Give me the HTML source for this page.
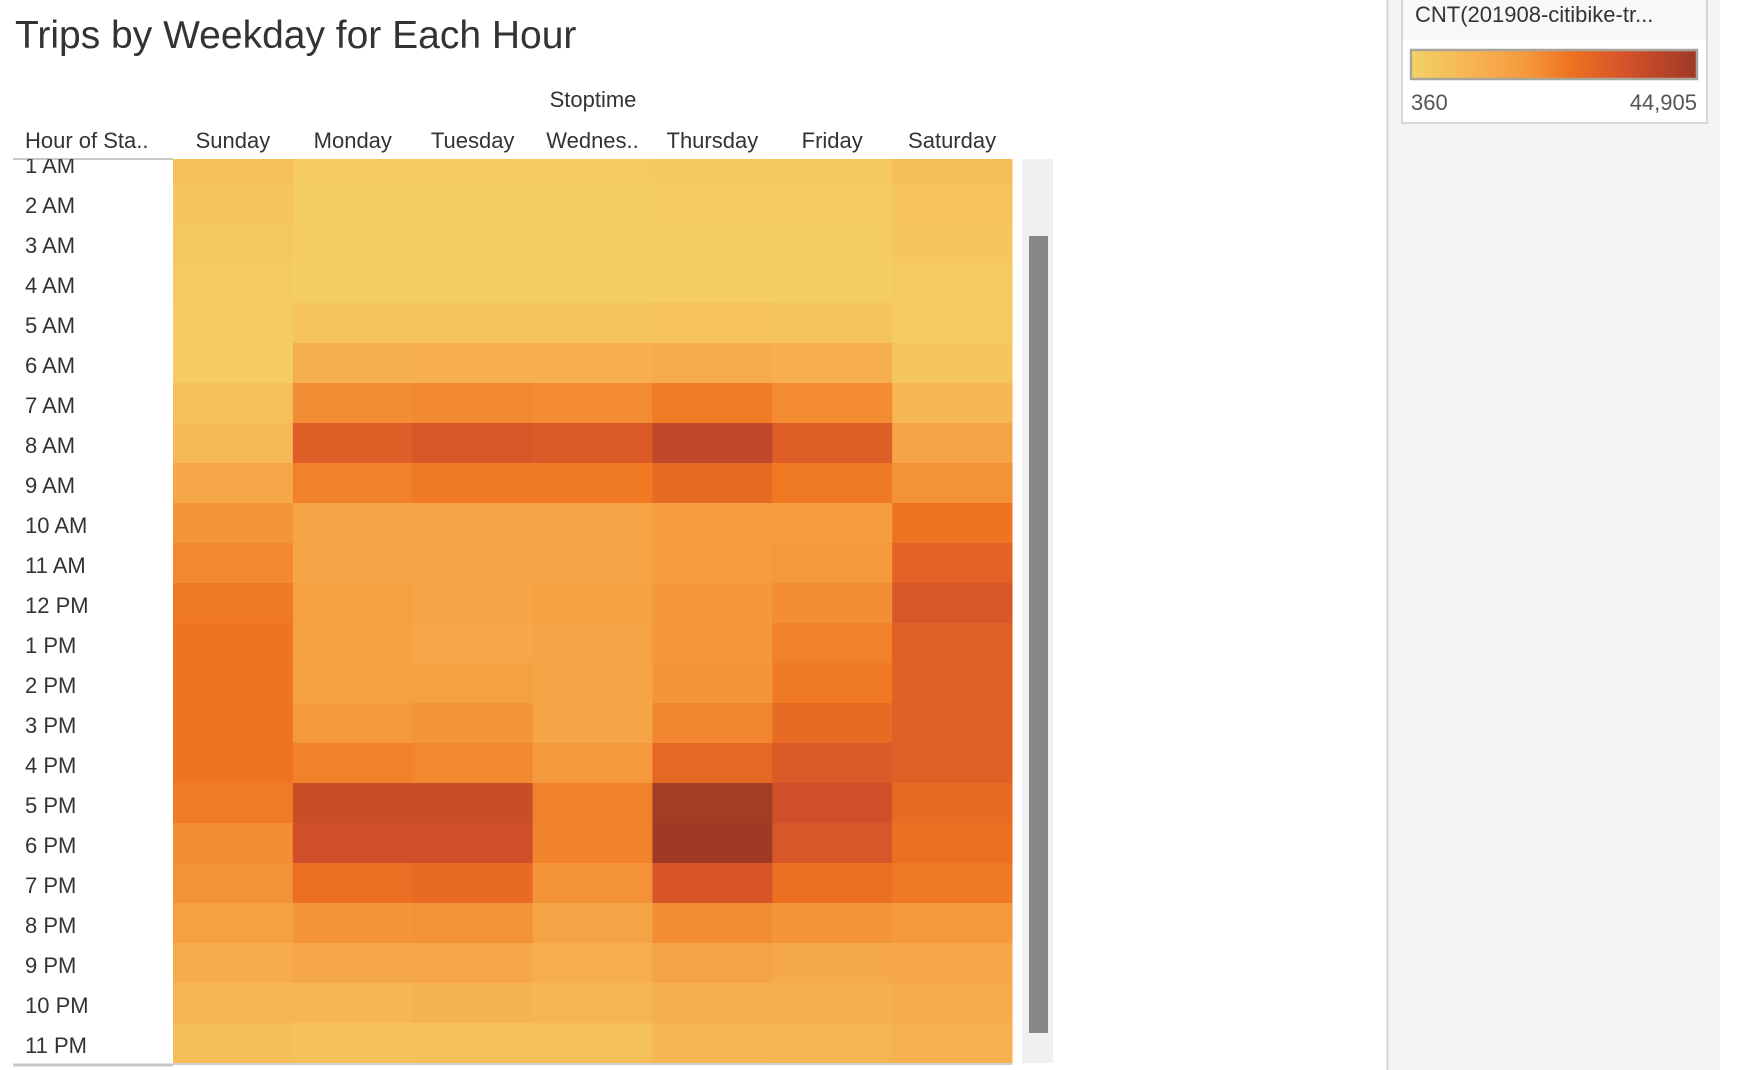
<!DOCTYPE html>
<html><head><meta charset="utf-8">
<style>
html,body{margin:0;padding:0;background:#fff;width:1752px;height:1070px;overflow:hidden;font-family:"Liberation Sans",sans-serif;}
</style></head>
<body>
<svg id="chart" width="1752" height="1070" xmlns="http://www.w3.org/2000/svg">
  <rect x="1387" y="0" width="333" height="1070" fill="#f4f4f4"/>
  <line x1="1387.5" y1="0" x2="1387.5" y2="1070" stroke="#d4d4d4" stroke-width="2"/>
  <rect x="1402" y="-2" width="305" height="125" fill="#fff" stroke="#d6d6d6" stroke-width="2"/>
  <rect x="1403" y="0" width="303" height="40" fill="#f8f8f8"/>
  <text x="1415" y="22" font-size="22" fill="#333">CNT(201908-citibike-tr...</text>
  <defs>
    <linearGradient id="lg" x1="0" x2="1" y1="0" y2="0">
      <stop offset="0" stop-color="#f4d166"/>
      <stop offset="0.2" stop-color="#f6b656"/>
      <stop offset="0.4" stop-color="#f59a3c"/>
      <stop offset="0.55" stop-color="#ef7421"/>
      <stop offset="0.75" stop-color="#d4522a"/>
      <stop offset="1" stop-color="#9e3a26"/>
    </linearGradient>
  </defs>
  <rect x="1411" y="50" width="286" height="29" fill="url(#lg)" stroke="#aaa59a" stroke-width="2.5"/>
  <text x="1411" y="110" font-size="22" fill="#555">360</text>
  <text x="1697" y="110" font-size="22" fill="#555" text-anchor="end">44,905</text>

  <text x="15" y="48" font-size="39" fill="#333">Trips by Weekday for Each Hour</text>
  <text x="593" y="107" font-size="22" fill="#333" text-anchor="middle">Stoptime</text>
  <text x="25" y="148" font-size="22" fill="#333">Hour of Sta..</text>
  <g id="colheads"></g>
  <line x1="13" y1="159" x2="173" y2="159" stroke="#c8c8c8" stroke-width="2"/>
  <line x1="13" y1="1065" x2="173" y2="1065" stroke="#c8c8c8" stroke-width="3"/>
  <line x1="173" y1="1064" x2="1012" y2="1064" stroke="#d0d0d0" stroke-width="2"/>
  <defs><clipPath id="clip"><rect x="0" y="159" width="1020" height="904"/></clipPath></defs>
  <g id="cells" clip-path="url(#clip)"></g>
  <rect x="1022" y="159" width="31" height="904" fill="#f0f0f0"/>
  <rect x="1029" y="236" width="19" height="797" fill="#888"/>
</svg>
<script>
const days = ["Sunday","Monday","Tuesday","Wednes..","Thursday","Friday","Saturday"];
const hours = ["1 AM","2 AM","3 AM","4 AM","5 AM","6 AM","7 AM","8 AM","9 AM","10 AM","11 AM","12 PM","1 PM","2 PM","3 PM","4 PM","5 PM","6 PM","7 PM","8 PM","9 PM","10 PM","11 PM"];
const sunday    = [5700,4400,3500,2600,2100,2100,5700,8400,13700,19100,21300,24000,24900,24900,24900,24900,23500,20400,19500,16000,12400,9300,6600];
const monday    = [2600,1700,1300,1700,4800,11500,20400,30700,22600,14600,14600,16000,16000,16400,18200,22600,36000,35100,26200,19100,13700,9300,5700];
const tuesday   = [2600,1700,1300,1700,4800,11900,21300,32400,24000,15100,14600,14600,13700,16000,19100,21300,36000,35100,27100,19500,13700,10200,6200];
const wednesday = [2600,1700,1300,1700,4800,11900,20900,31500,24000,15100,15100,16000,14600,15100,14600,18200,22600,22200,19500,15100,12000,9300,6200];
const thursday  = [3000,2100,1700,1700,5300,12800,23500,38200,27100,17300,17300,18600,18600,19100,21700,28000,43600,44900,32900,20400,15100,11500,9300];
const friday    = [3500,2600,1700,1700,4800,11900,20900,30700,24000,17300,18200,20400,22600,24000,27100,31500,35100,32400,25800,19100,13300,11500,9700];
const saturday  = [6600,5300,3900,2600,2100,3900,9300,14600,19500,24900,29300,32400,29800,29800,29800,29800,27100,25800,24000,18200,13700,12400,10600];
const series = [sunday,monday,tuesday,wednesday,thursday,friday,saturday];
const vmin = 360, vmax = 44905;

const NS = "http://www.w3.org/2000/svg";
const x0 = 173, colW = 119.86, rowTop = 143, rowH = 40;
const xPos = i => x0 + i * colW;
const yPos = j => rowTop + j * rowH;
const stops = [[0,[244,209,102]],[0.2,[246,182,86]],[0.4,[245,154,60]],[0.55,[239,116,33]],[0.75,[212,82,42]],[1,[158,58,38]]];
function color(v){
  let t = Math.max(0, Math.min(1, (v - vmin) / (vmax - vmin)));
  for (let k = 1; k < stops.length; k++) {
    if (t <= stops[k][0]) {
      const a = stops[k-1], b = stops[k];
      const f = (t - a[0]) / (b[0] - a[0]);
      const c = a[1].map((q, i) => Math.round(q + (b[1][i] - q) * f));
      return `rgb(${c[0]},${c[1]},${c[2]})`;
    }
  }
  return "rgb(158,58,38)";
}
const cells = document.getElementById("cells");
series.forEach((s, i) => {
  s.forEach((v, j) => {
    const r = document.createElementNS(NS, "rect");
    r.setAttribute("x", xPos(i));
    r.setAttribute("y", yPos(j));
    r.setAttribute("width", colW + 0.5);
    r.setAttribute("height", rowH + 0.5);
    r.setAttribute("fill", color(v));
    
    
    cells.appendChild(r);
  });
});
hours.forEach((h, j) => {
  const t = document.createElementNS(NS, "text");
  t.setAttribute("x", 25);
  t.setAttribute("y", yPos(j) + rowH / 2 + 10);
  t.setAttribute("font-size", "22");
  t.setAttribute("fill", "#333");
  t.textContent = h;
  
  
  cells.appendChild(t);
});
const ch = document.getElementById("colheads");
days.forEach((d, i) => {
  const t = document.createElementNS(NS, "text");
  t.setAttribute("x", xPos(i) + colW / 2);
  t.setAttribute("y", 148);
  t.setAttribute("font-size", "22");
  t.setAttribute("fill", "#333");
  t.setAttribute("text-anchor", "middle");
  t.textContent = d;
  
  
  ch.appendChild(t);
});
</script>
</body></html>
